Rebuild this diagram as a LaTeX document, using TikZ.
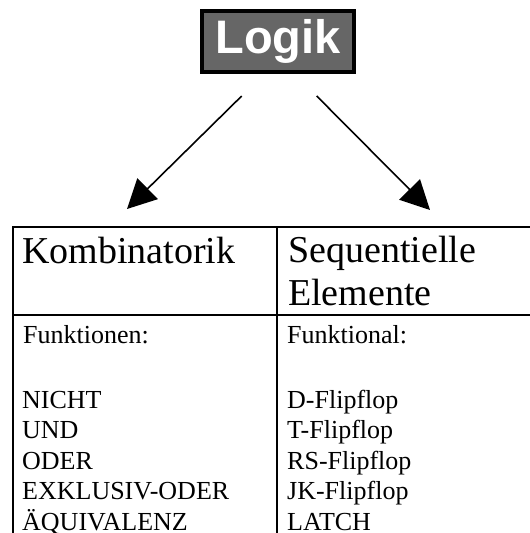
\documentclass[tikz,border=0pt]{standalone}
\usepackage{fontspec}
\setmainfont{Liberation Serif}
\newfontfamily\logikfont{Liberation Sans}
\usetikzlibrary{arrows.meta}
\begin{document}
\begin{tikzpicture}[x=1pt,y=-1pt,
  titlebox/.style={draw=black,line width=4pt,fill=black!60,text=white,
    font=\logikfont\bfseries\fontsize{47}{50}\selectfont,
    minimum width=152pt,minimum height=61pt,inner sep=0pt},
  bigarrow/.style={line width=1.6pt,-{Triangle[length=29pt,width=29pt]}},
  tline/.style={line width=2pt},
  headtext/.style={anchor=base west,inner sep=0pt,font=\fontsize{38}{43}\selectfont},
  celltext/.style={anchor=base west,inner sep=0pt,font=\fontsize{26}{30.5}\selectfont}]
\useasboundingbox (0,0) rectangle (530,533);
% title
\node[titlebox] (logik) at (278,41.5) {Logik};
% arrows
\coordinate (l1) at (241.7,96);
\coordinate (l2) at (127,209);
\coordinate (r1) at (316.7,96);
\coordinate (r2) at (430,210);
\draw[bigarrow] (l1) -- (l2);
\draw[bigarrow] (r1) -- (r2);
% table
\coordinate (tl) at (13,227);
\coordinate (tr) at (535,227);
\coordinate (tm) at (277,227);
\coordinate (bl) at (13,540);
\coordinate (bm) at (277,540);
\coordinate (dl) at (13,315);
\coordinate (dr) at (535,315);
\draw[tline] (tr) -- (tl) -- (bl);
\draw[tline] (tm) -- (bm);
\draw[tline] (dl) -- (dr);
% headings
\node[headtext] (komb) at (22,263) {Kombinatorik};
\node[headtext] (seq1) at (288,262) {Sequentielle};
\node[headtext] (seq2) at (288,305) {Elemente};
% cell texts
\node[celltext] (fkt1) at (23,343) {Funktionen:};
\node[celltext] (fkt2) at (287,343) {Funktional:};
\node[celltext] (a1) at (22,408) {NICHT};
\node[celltext] (a2) at (22,438.5) {UND};
\node[celltext] (a3) at (22,469) {ODER};
\node[celltext] (a4) at (22,499.5) {EXKLUSIV-ODER};
\node[celltext] (a5) at (22,530) {ÄQUIVALENZ};
\node[celltext] (b1) at (287,408) {D-Flipflop};
\node[celltext] (b2) at (287,438.5) {T-Flipflop};
\node[celltext] (b3) at (287,469) {RS-Flipflop};
\node[celltext] (b4) at (287,499.5) {JK-Flipflop};
\node[celltext] (b5) at (287,530) {LATCH};
\end{tikzpicture}
\end{document}
